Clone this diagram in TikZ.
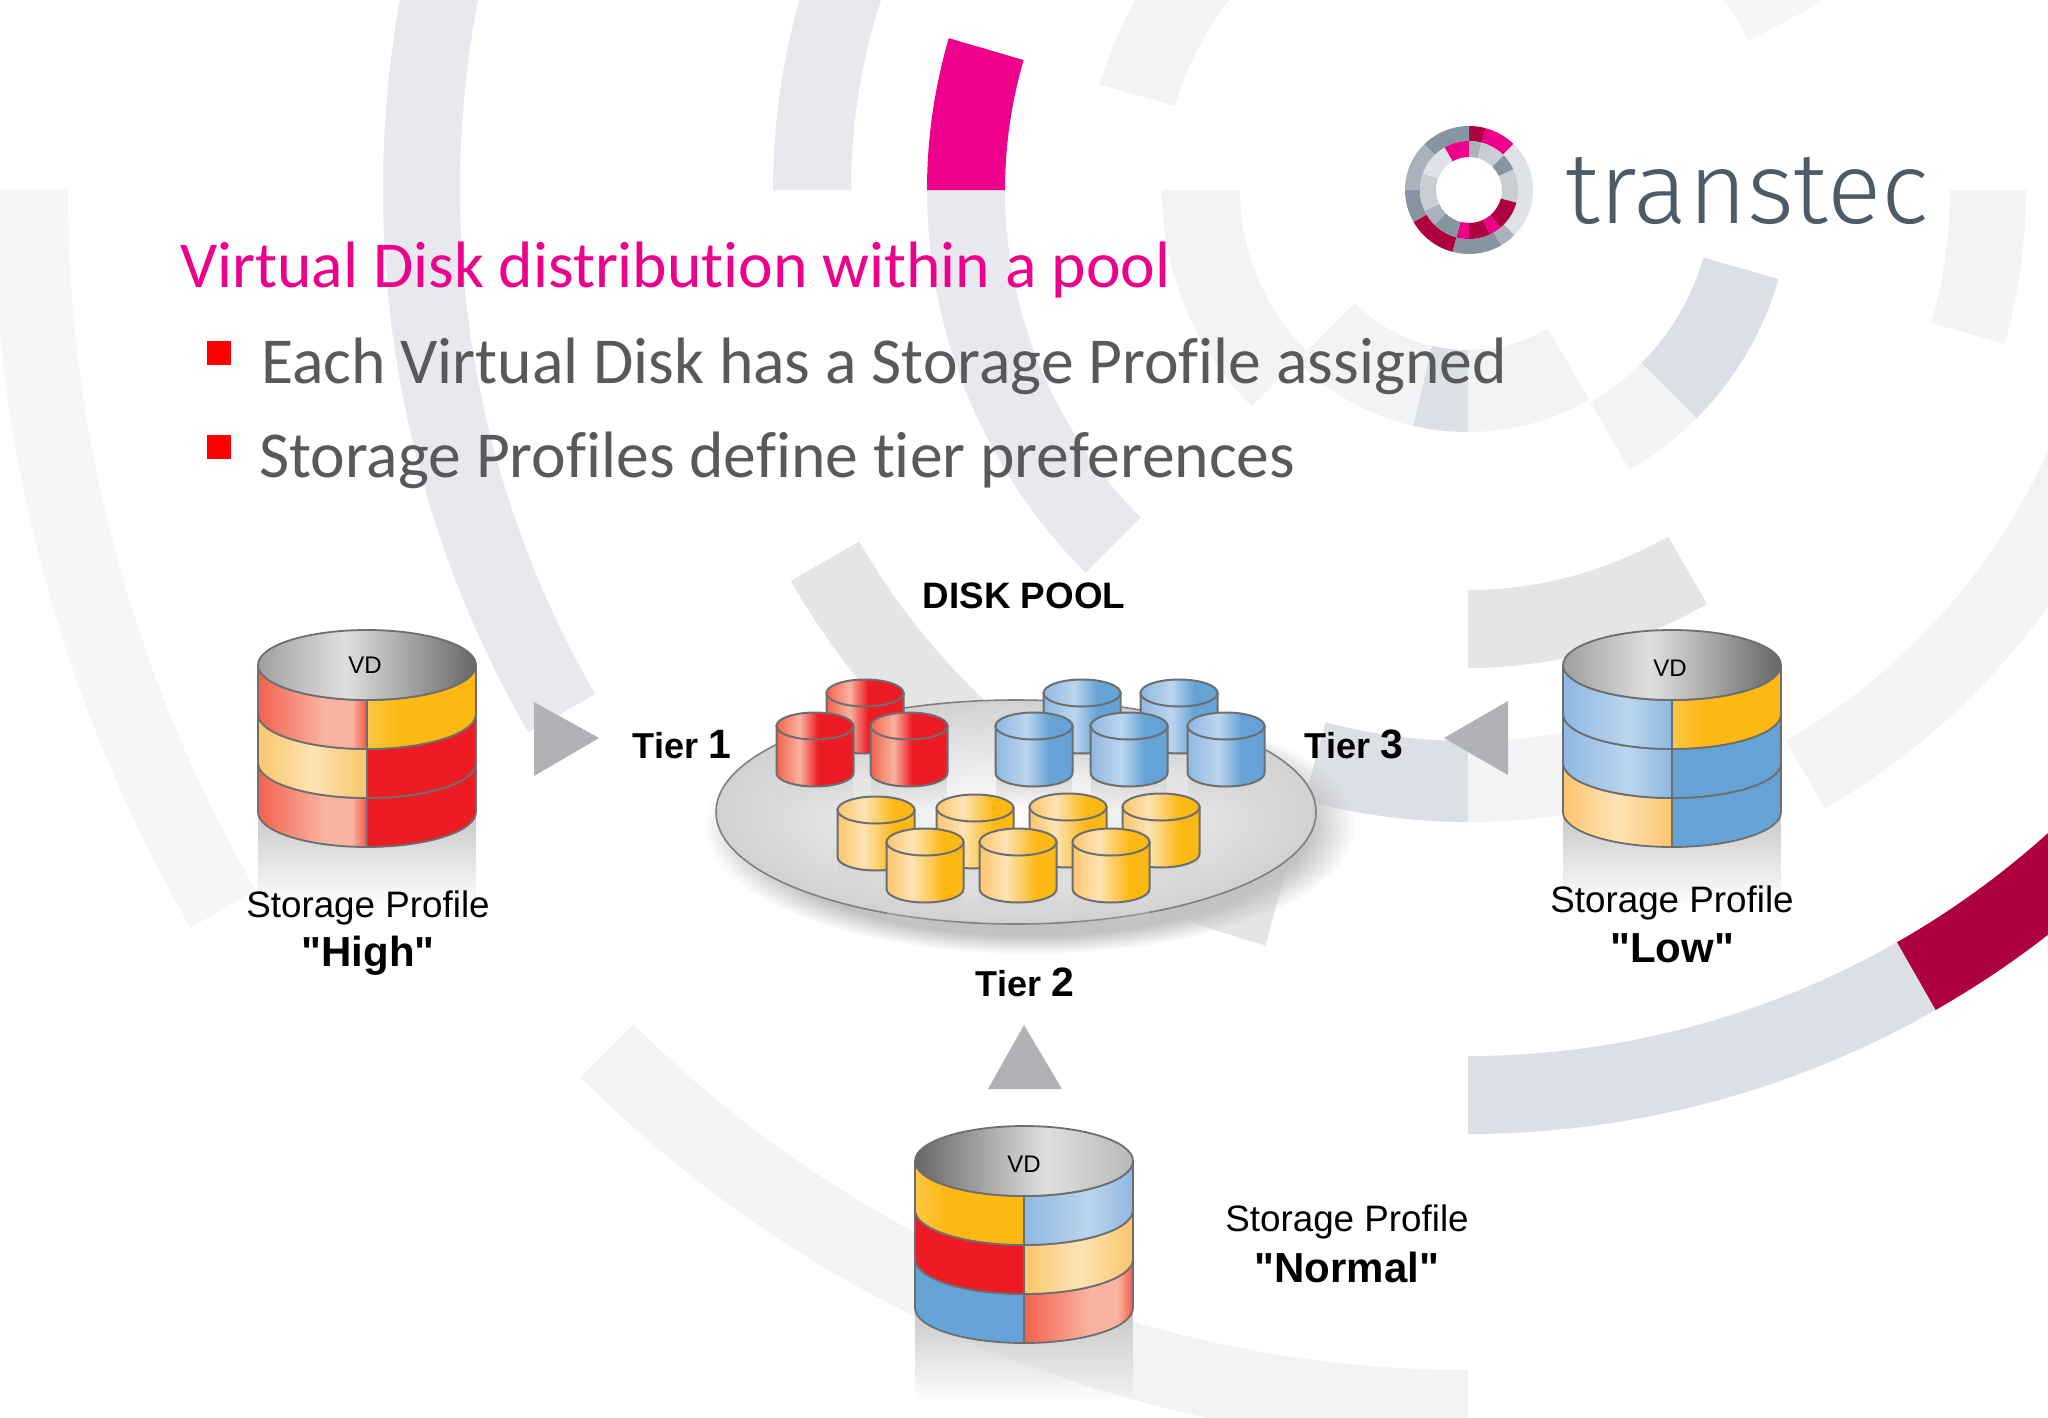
\documentclass[tikz,border=0pt]{standalone}
\usepackage{fontspec}
\setmainfont{Liberation Sans}
\newfontfamily\slidefont[Ligatures=NoCommon]{Carlito}
\newfontfamily\logofont[UprightFont=* Light]{Fira Sans}
\usetikzlibrary{fadings}

\definecolor{pinkmain}{HTML}{EC008C}
\definecolor{wine}{HTML}{AE003F}
\definecolor{slidegray}{HTML}{58595B}
\definecolor{logoslate}{HTML}{4C5B68}
\definecolor{arrowgray}{HTML}{B1B2B6}
\definecolor{vdedge}{HTML}{6D6E70}
\definecolor{logodark}{HTML}{8794A2}
\definecolor{logomid}{HTML}{AAB3BD}
\definecolor{logosoft}{HTML}{C9CED5}
\definecolor{logopale}{HTML}{DFE2E7}

\definecolor{ringpale}{HTML}{F6F6F8}
\definecolor{ringsoft}{HTML}{F2F3F5}
\definecolor{ringmid}{HTML}{E8E9EE}
\definecolor{ringwarm}{HTML}{E4E6E6}
\definecolor{ringdeep}{HTML}{DCDFE5}

\definecolor{redA}{HTML}{F2624E}
\definecolor{redB}{HTML}{F9B3A0}
\definecolor{redC}{HTML}{ED1C24}
\definecolor{amberA}{HTML}{FCC66C}
\definecolor{amberB}{HTML}{FDE3B5}
\definecolor{amberC}{HTML}{FDB813}
\definecolor{blueA}{HTML}{8FB8E0}
\definecolor{blueB}{HTML}{BBD5EE}
\definecolor{blueC}{HTML}{65A3D6}

% halves of the big disks
\pgfdeclarehorizontalshading{redlit}{100bp}{color(0bp)=(redA); color(25bp)=(redA); color(55bp)=(redB); color(68bp)=(redB); color(75bp)=(redA!85!redC); color(100bp)=(redA)}
\pgfdeclarehorizontalshading{amberlit}{100bp}{color(0bp)=(amberA); color(25bp)=(amberA); color(50bp)=(amberB); color(75bp)=(amberA); color(100bp)=(amberA)}
\pgfdeclarehorizontalshading{bluelit}{100bp}{color(0bp)=(blueA); color(25bp)=(blueA); color(55bp)=(blueB); color(75bp)=(blueA); color(100bp)=(blueA)}
\pgfdeclarehorizontalshading{redfull}{100bp}{color(0bp)=(redC); color(100bp)=(redC)}
\pgfdeclarehorizontalshading{amberfull}{100bp}{color(0bp)=(amberC!80!white); color(25bp)=(amberC!80!white); color(40bp)=(amberC); color(100bp)=(amberC)}
\pgfdeclarehorizontalshading{bluefull}{100bp}{color(0bp)=(blueC); color(100bp)=(blueC)}
% small disks of the pool
\pgfdeclarehorizontalshading{poolred}{100bp}{color(0bp)=(redA); color(25bp)=(redA); color(40bp)=(redB); color(52bp)=(redC); color(100bp)=(redC)}
\pgfdeclarehorizontalshading{poolamber}{100bp}{color(0bp)=(amberA); color(25bp)=(amberA); color(42bp)=(amberB); color(62bp)=(amberC); color(100bp)=(amberC)}
\pgfdeclarehorizontalshading{poolblue}{100bp}{color(0bp)=(blueA); color(25bp)=(blueA); color(45bp)=(blueB); color(60bp)=(blueC); color(100bp)=(blueC)}
% grey mouth of the big disks
\pgfdeclarehorizontalshading{mouthright}{100bp}{color(0bp)=(gray!75); color(25bp)=(gray!75); color(45bp)=(gray!25); color(75bp)=(black!60); color(100bp)=(black!60)}
\pgfdeclarehorizontalshading{mouthleft}{100bp}{color(0bp)=(black!60); color(25bp)=(black!60); color(55bp)=(gray!25); color(75bp)=(gray!55); color(100bp)=(gray!55)}

\newcommand{\ringseg}[5]{\fill[#5] (#3:#1) arc[start angle=#3,end angle=#4,radius=#1] -- (#4:#2) arc[start angle=#4,end angle=#3,radius=#2] -- cycle;}
\newcommand{\vdband}[4]{%
  \shadedraw[shading=#3,bigedge] (#1-109,#2) arc[start angle=180,end angle=90,x radius=109,y radius=35] -- ++(0,49) arc[start angle=90,end angle=180,x radius=109,y radius=35] -- cycle;
  \shadedraw[shading=#4,bigedge] (#1,#2+35) arc[start angle=90,end angle=0,x radius=109,y radius=35] -- ++(0,49) arc[start angle=0,end angle=90,x radius=109,y radius=35] -- cycle;}
\newcommand{\vdmouth}[3]{%
  \shadedraw[shading=#3,bigedge] (#1,#2) ellipse[x radius=109,y radius=35];}
\newcommand{\vdglow}[2]{%
  \fill[black!22,path fading=south] (#1-109,#2+147) rectangle (#1+109,#2+240);}
\newcommand{\pooldisk}[3]{%
  \fill[black!16,path fading=south] (#1-38,#2+48) rectangle (#1+38,#2+82);
  \shadedraw[shading=#3,pooledge] (#1-38.5,#2) -- ++(0,47) arc[start angle=180,end angle=0,x radius=38.5,y radius=13.5] -- ++(0,-47) -- cycle;
  \shadedraw[shading=#3,pooledge] (#1,#2) ellipse[x radius=38.5,y radius=13.5];}

\begin{document}
\begin{tikzpicture}[x=1pt,y=-1pt,
    bigedge/.style={draw=vdedge,line width=1.8pt},
    pooledge/.style={draw=vdedge,line width=2pt},
    vdlabel/.style={font=\fontsize{24}{24}\selectfont},
    profilelabel/.style={anchor=base,font=\fontsize{36.8}{36.8}\selectfont},
    namelabel/.style={anchor=base,font=\bfseries\fontsize{42}{42}\selectfont},
    tierlabel/.style={anchor=base,font=\bfseries\fontsize{36}{36}\selectfont},
    slideline/.style={anchor=base west,text=slidegray,font=\slidefont\fontsize{65.6}{65.6}\selectfont},
    bulletmark/.style={fill=red},
    tierarrow/.style={fill=arrowgray}]
  \path[use as bounding box,clip] (0,0) rectangle (2048,1418);
  \fill[white] (0,0) rectangle (2048,1418);

  % rings behind everything
  \begin{scope}[shift={(1468,190)}]
    \ringseg{1400}{1475}{150}{180}{ringpale}
    \ringseg{1008}{1085}{150}{200}{ringmid}
    \ringseg{1180}{1255}{90}{135}{ringsoft}
    \ringseg{866}{944}{60.3}{90}{ringdeep}
    \ringseg{866}{944}{40}{60.3}{wine}
    \ringseg{636}{714}{20}{60}{ringsoft}
    \ringseg{482}{558}{0}{16}{ringsoft}
    \ringseg{400}{478}{60}{90}{ringwarm}
    \ringseg{551}{632}{90}{105}{ringdeep}
    \ringseg{551}{632}{75}{90}{ringsoft}
    \ringseg{703}{782}{105}{150}{ringwarm}
    \ringseg{463}{541}{135}{180}{ringmid}
    \ringseg{463}{541}{180}{196.3}{pinkmain}
    \ringseg{617}{695}{180}{200}{ringmid}
    \ringseg{305}{383}{196}{240}{ringsoft}
    \ringseg{228}{306}{135}{180}{ringsoft}
    \ringseg{160}{242}{103}{135}{ringsoft}
    \ringseg{160}{242}{90}{103}{ringdeep}
    \ringseg{160}{242}{60}{90}{ringsoft}
    \ringseg{245}{323}{16}{45}{ringdeep}
    \ringseg{245}{323}{45}{60}{ringsoft}
    \ringseg{318}{400}{-28}{-50}{ringpale}
  \end{scope}

  % logo
  \begin{scope}[shift={(1469,190)}]
    \ringseg{49}{64}{270}{285}{wine}
    \ringseg{49}{64}{285}{314}{pinkmain}
    \ringseg{49}{64}{314}{376}{logopale}
    \ringseg{49}{64}{16}{45}{logopale}
    \ringseg{49}{64}{45}{60}{logomid}
    \ringseg{49}{64}{60}{105}{logodark}
    \ringseg{49}{64}{105}{150}{wine}
    \ringseg{49}{64}{150}{180}{logodark}
    \ringseg{49}{64}{180}{226}{logomid}
    \ringseg{49}{64}{226}{270}{logodark}
    \ringseg{33}{49}{240}{270}{pinkmain}
    \ringseg{33}{49}{270}{285}{logomid}
    \ringseg{33}{49}{285}{315}{logosoft}
    \ringseg{33}{49}{315}{335}{logodark}
    \ringseg{33}{49}{335}{375}{logosoft}
    \ringseg{33}{49}{15}{50}{wine}
    \ringseg{33}{49}{50}{65}{pinkmain}
    \ringseg{33}{49}{65}{90}{wine}
    \ringseg{33}{49}{90}{105}{pinkmain}
    \ringseg{33}{49}{105}{135}{logodark}
    \ringseg{33}{49}{135}{155}{logomid}
    \ringseg{33}{49}{155}{200}{logosoft}
    \ringseg{33}{49}{200}{240}{logopale}
  \end{scope}
  \node[anchor=base west,inner sep=0pt,text=logoslate,font=\logofont\fontsize{101}{101}\selectfont] (logoname) at (1565,223) {transtec};

  % heading
  \node[slideline,inner sep=0pt,text=pinkmain] (title) at (180,287) {Virtual Disk distribution within a pool};
  \fill[bulletmark] (207,341) rectangle (231,365);
  \node[slideline,inner sep=0pt] (lineone) at (261,383) {Each Virtual Disk has a Storage Profile assigned};
  \fill[bulletmark] (207,435) rectangle (231,459);
  \node[slideline,inner sep=0pt] (linetwo) at (259,477) {Storage Profiles define tier preferences};

  % the pool
  \fill[black!24,path fading=circle with fuzzy edge 15 percent] (1030,826) ellipse[x radius=325,y radius=128];
  \shadedraw[inner color=white,outer color=black!18,draw=black!50,line width=1.6pt] (1016,812) ellipse[x radius=300,y radius=112];
  \pooldisk{865}{693}{poolred}
  \pooldisk{815}{726}{poolred}
  \pooldisk{909}{726}{poolred}
  \pooldisk{1082}{693}{poolblue}
  \pooldisk{1179}{693}{poolblue}
  \pooldisk{1034}{726}{poolblue}
  \pooldisk{1129}{726}{poolblue}
  \pooldisk{1226}{726}{poolblue}
  \pooldisk{876}{810}{poolamber}
  \pooldisk{975}{808}{poolamber}
  \pooldisk{1068}{807}{poolamber}
  \pooldisk{1161}{807}{poolamber}
  \pooldisk{925}{842}{poolamber}
  \pooldisk{1018}{842}{poolamber}
  \pooldisk{1111}{842}{poolamber}
  \node[anchor=base,font=\bfseries\fontsize{36.8}{36.8}\selectfont] (poolname) at (1024,608) {DISK POOL};

  % profile High
  \vdglow{367}{665}
  \vdband{367}{763}{redlit}{redfull}
  \vdband{367}{714}{amberlit}{redfull}
  \vdband{367}{665}{redlit}{amberfull}
  \vdmouth{367}{665}{mouthright}
  \node[vdlabel] (vdhigh) at (365,665) {VD};
  \node[profilelabel] (profhigh) at (368,917) {Storage Profile};
  \node[namelabel] (namehigh) at (368,966) {\textquotedbl High\textquotedbl};

  % profile Low
  \vdglow{1672}{665}
  \vdband{1672}{763}{amberlit}{bluefull}
  \vdband{1672}{714}{bluelit}{bluefull}
  \vdband{1672}{665}{bluelit}{amberfull}
  \vdmouth{1672}{665}{mouthright}
  \node[vdlabel] (vdlow) at (1670,668) {VD};
  \node[profilelabel] (proflow) at (1672,912) {Storage Profile};
  \node[namelabel] (namelow) at (1672,962) {\textquotedbl Low\textquotedbl};

  % profile Normal
  \vdglow{1024}{1161}
  \vdband{1024}{1259}{bluefull}{redlit}
  \vdband{1024}{1210}{redfull}{amberlit}
  \vdband{1024}{1161}{amberfull}{bluelit}
  \vdmouth{1024}{1161}{mouthleft}
  \node[vdlabel] (vdnormal) at (1024,1164) {VD};
  \node[profilelabel] (profnormal) at (1347,1231) {Storage Profile};
  \node[namelabel] (namenormal) at (1347,1282) {\textquotedbl Normal\textquotedbl};

  % tiers
  \node[tierlabel] (tierone) at (682,758) {Tier {\fontsize{41}{41}\selectfont 1}};
  \node[tierlabel] (tiertwo) at (1025,996) {Tier {\fontsize{41}{41}\selectfont 2}};
  \node[tierlabel] (tierthree) at (1354,758) {Tier {\fontsize{41}{41}\selectfont 3}};
  \fill[tierarrow] (534,702) -- (599,738) -- (534,776) -- cycle;
  \fill[tierarrow] (1508,701) -- (1444,738) -- (1508,775) -- cycle;
  \fill[tierarrow] (1024,1025) -- (1062,1089) -- (988,1089) -- cycle;
\end{tikzpicture}
\end{document}
